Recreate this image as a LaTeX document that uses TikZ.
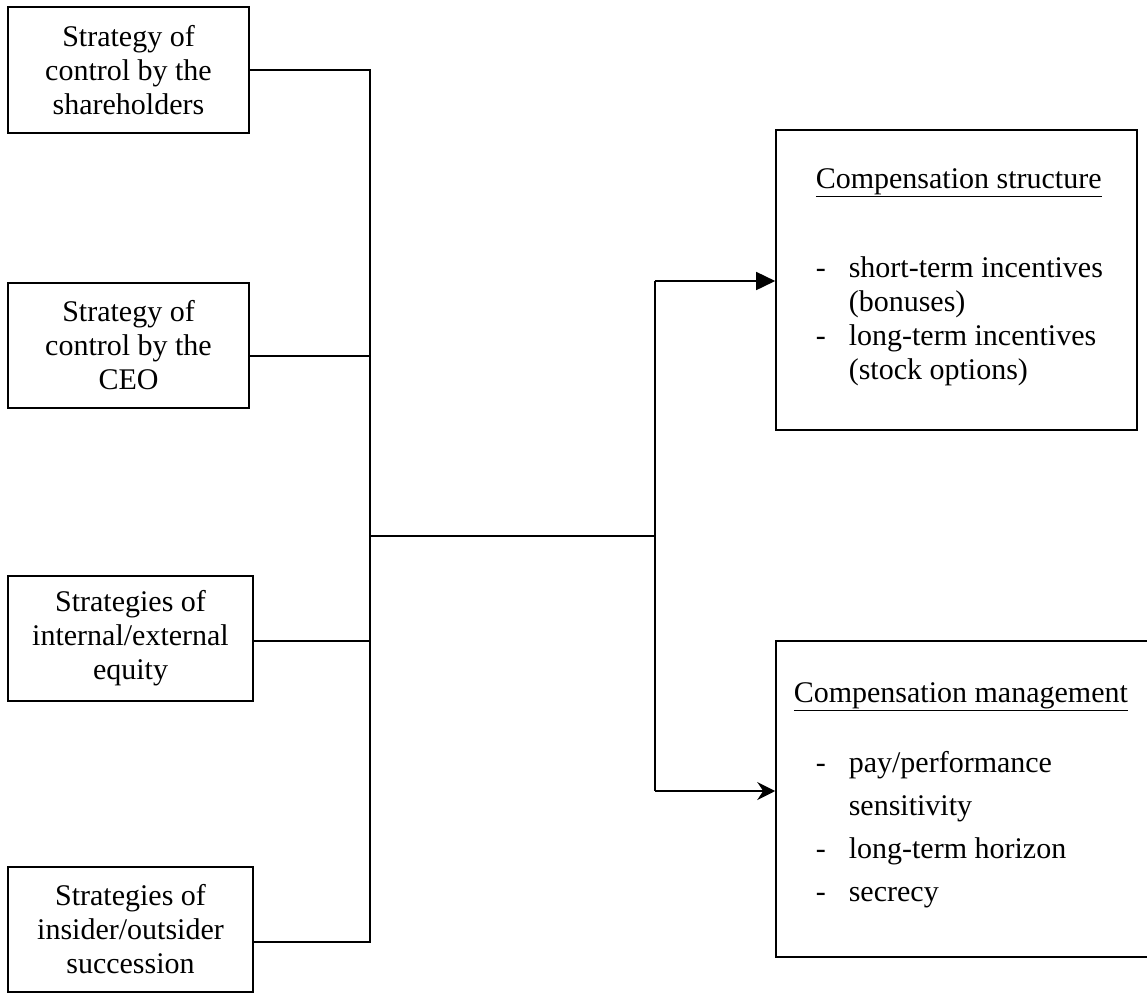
\documentclass[tikz,border=0pt]{standalone}
\usepackage{fontspec}
\setmainfont{Liberation Serif}
\usetikzlibrary{arrows.meta,calc}
\begin{document}
\begin{tikzpicture}[x=1pt,y=-1pt,
  line width=1.6pt,
  leftbox/.style={draw, rectangle, inner sep=0pt, align=center,
    font=\fontsize{30}{34}\selectfont},
  itemtext/.style={anchor=base west, inner sep=0pt, font=\fontsize{30}{34}\selectfont},
  conn/.style={draw, line width=1.6pt},
  tri/.style={-{Triangle[length=19pt,width=18pt]}},
  stl/.style={-{Stealth[length=18pt,width=18pt,inset=6pt]}}]
\useasboundingbox (0,0) rectangle (1147,994);
% left boxes
\node[leftbox, minimum width=241pt, minimum height=126pt] (b1) at (128.5,70) {Strategy of\\control by the\\shareholders};
\node[leftbox, minimum width=241pt, minimum height=125pt] (b2) at (128.5,345.5) {Strategy of\\control by the\\CEO};
\node[leftbox, minimum width=245pt, minimum height=125pt] (b3) at (130.5,638.5) {Strategies of\\internal/external\\equity};
\node[leftbox, minimum width=245pt, minimum height=125pt] (b4) at (130.5,929.5) {Strategies of\\insider/outsider\\succession};
% right boxes
\node[draw, rectangle, minimum width=361pt, minimum height=300pt, inner sep=0pt] (r1) at (956.5,280) {};
\node[draw, rectangle, minimum width=390pt, minimum height=316pt, inner sep=0pt] (r2) at (971,799) {};
% texts of right boxes
\node[itemtext] (h1) at (815,188) {\underline{Compensation structure}};
\node[itemtext] (d1) at (815,277) {-};
\node[itemtext] (t1) at (848,277) {short-term incentives};
\node[itemtext] (t2) at (848,311) {(bonuses)};
\node[itemtext] (d2) at (815,345) {-};
\node[itemtext] (t3) at (848,345) {long-term incentives};
\node[itemtext] (t4) at (848,379) {(stock options)};
\node[itemtext] (h2) at (793,702) {\underline{Compensation management}};
\node[itemtext] (d3) at (815,772) {-};
\node[itemtext] (u1) at (848,772) {pay/performance};
\node[itemtext] (u2) at (848,815) {sensitivity};
\node[itemtext] (d4) at (815,858) {-};
\node[itemtext] (u3) at (848,858) {long-term horizon};
\node[itemtext] (d5) at (815,901) {-};
\node[itemtext] (u4) at (848,901) {secrecy};
% junction coordinates
\coordinate (j1) at (370,70);
\coordinate (j2) at (370,356);
\coordinate (j3) at (370,641);
\coordinate (j4) at (370,942);
\coordinate (jc) at (370,536);
\coordinate (k0) at (655,536);
\coordinate (k1) at (655,281);
\coordinate (k2) at (655,791);
% connectors
\draw[conn] (b1.east |- j1) -- (j1) -- (j4) -- (b4.east |- j4);
\draw[conn] (b2.east |- j2) -- (j2);
\draw[conn] (b3.east |- j3) -- (j3);
\draw[conn] (jc) -- (k0);
\draw[conn] (k1) -- (k2);
\draw[conn, tri] (k1) -- (r1.west |- k1);
\draw[conn, stl] (k2) -- (r2.west |- k2);
\end{tikzpicture}
\end{document}
